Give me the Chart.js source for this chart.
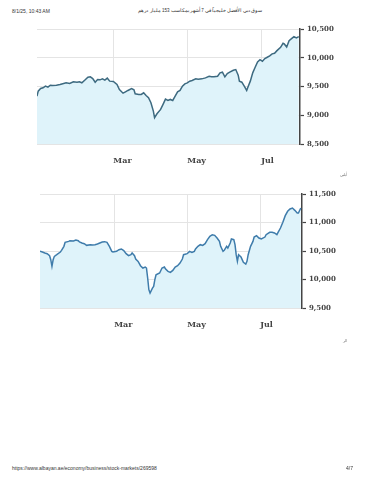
<!DOCTYPE html>
<html>
<head>
<meta charset="utf-8">
<title>سوق دبي</title>
<script src="https://cdn.jsdelivr.net/npm/chart.js"></script>
<style>
  body { margin:0; width:370px; height:480px; background:#fff; position:relative; overflow:hidden; font-family:"Liberation Sans", Arial, sans-serif; }
  .tiny { position:absolute; font-size:5px; color:#333; white-space:nowrap; }
  canvas { position:absolute; left:0; }
</style>
</head>
<body>
  <div class="tiny" style="left:12px; top:8px;">8/1/25, 10:43 AM</div>
  <div class="tiny" style="right:108px; top:8px; direction:rtl; font-size:4.5px;">سوق دبي الأفضل خليجياً في 7 أشهر بمكاسب 153 مليار درهم</div>
  <canvas id="chart1" width="370" height="160" style="top:15px;"></canvas>
  <div class="tiny" style="left:340px; top:172px; color:#777; font-size:4px;">أبلبي</div>
  <canvas id="chart2" width="370" height="160" style="top:180px;"></canvas>
  <div class="tiny" style="left:343px; top:338px; color:#777; font-size:4px;">الر</div>
  <div class="tiny" style="left:12px; top:465px;">https://www.albayan.ae/economy/business/stock-markets/269598</div>
  <div class="tiny" style="left:346px; top:465px;">4/7</div>
<script>
// x values are days counted from 1 Jan 2025
const xTickDays = [59, 120, 181];
const xTickLabels = ['Mar', 'May', 'Jul'];

const days1 = [-4,-3,-1,1,3,5,7,9,12,15,18,20,23,26,29,31,33,36,38,40,42,44,46,48,50,52,54,56,59,62,
  64,67,69,71,74,76,77,80,82,84,86,88,90,92,93,95,98,100,102,104,106,108,110,112,114,116,118,120,122,124,
  127,129,132,135,138,140,142,145,147,149,151,153,155,158,160,162,163,165,167,169,170,172,174,176,178,180,182,184,186,188,
  190,192,194,197,199,200,202,204,206,208,210,212];
const values1 = [9332,9419,9465,9477,9506,9488,9523,9517,9523,9535,9552,9564,9552,9581,9575,9581,9564,9621,9662,9668,
  9639,9575,9621,9616,9633,9610,9645,9593,9587,9535,9448,9384,9407,9431,9465,9442,9373,9361,9361,9390,
  9344,9304,9217,9072,8957,9026,9101,9188,9280,9257,9275,9257,9332,9408,9431,9506,9546,9564,9593,9604,
  9633,9627,9633,9650,9679,9668,9668,9679,9737,9749,9668,9726,9749,9783,9795,9697,9593,9575,9506,9431,
  9488,9593,9737,9835,9928,9968,9939,9986,10009,10032,10067,10078,10124,10182,10251,10240,10188,10298,10332,10367,
  10344,10367];
const yTicks1 = [8500, 9000, 9500, 10000, 10500];

const days2 = [-3,-1,1,3,5,6,7,8,9,11,14,15,17,18,21,22,25,27,29,30,32,34,36,39,41,43,45,47,49,51,
  53,55,57,58,61,63,65,67,69,71,73,74,76,77,79,81,83,85,86,87,88,89,91,92,93,94,97,99,101,102,
  104,106,108,110,112,114,116,117,120,122,124,126,127,129,131,133,135,137,139,141,143,145,147,148,150,151,153,154,156,157,
  159,160,161,162,163,165,166,167,169,170,171,173,175,176,178,180,182,185,186,189,191,193,195,196,198,200,202,204,206,208,
  210,212,213,215];
const values2 = [10494,10482,10465,10453,10418,10348,10231,10348,10406,10435,10482,10511,10582,10652,10669,10681,10675,10693,10681,10658,
  10640,10628,10599,10611,10605,10611,10623,10640,10658,10664,10652,10582,10494,10482,10494,10523,10535,10506,10453,10418,
  10435,10465,10418,10359,10318,10242,10201,10219,10201,10026,9821,9763,9850,9880,9997,10084,10114,10201,10219,10184,
  10143,10125,10160,10219,10242,10289,10359,10435,10453,10494,10476,10494,10535,10582,10611,10599,10628,10699,10757,10786,
  10775,10728,10669,10582,10494,10511,10582,10553,10640,10710,10699,10611,10435,10318,10435,10394,10348,10301,10271,10318,
  10435,10582,10669,10745,10769,10728,10710,10745,10786,10827,10827,10816,10786,10827,10903,11003,11120,11196,11237,11254,
  11213,11167,11167,11254];
const yTicks2 = [9500, 10000, 10500, 11000, 11500];

function drawChart(id, days, values, yTicks, xMin, xMax, padLeft, padTop, axisW, axisH, lineColor) {
  const pts = days.map((d, i) => ({ x: d, y: values[i] }));
  return new Chart(document.getElementById(id), {
    type: 'line',
    data: {
      datasets: [{
        data: pts,
        borderColor: lineColor,
        borderWidth: 1.5,
        backgroundColor: '#dff3fa',
        fill: 'start',
        pointRadius: 0,
        tension: 0
      }]
    },
    options: {
      responsive: false,
      animation: false,
      devicePixelRatio: 1,
      layout: { padding: { left: padLeft, top: padTop, right: 0, bottom: 0 } },
      plugins: { legend: { display: false }, tooltip: { enabled: false } },
      scales: {
        x: {
          type: 'linear',
          min: xMin,
          max: xMax,
          afterBuildTicks: s => { s.ticks = xTickDays.map(v => ({ value: v })); },
          afterFit: s => { s.height = axisH; },
          ticks: {
            callback: (v, i) => xTickLabels[i],
            align: 'start',
            padding: 12,
            autoSkip: false,
            maxRotation: 0,
            color: '#444',
            font: { family: 'DejaVu Serif', size: 8, weight: 'bold' }
          },
          grid: { color: '#e4e4e4', drawTicks: false },
          border: { display: false }
        },
        y: {
          position: 'right',
          min: yTicks[0],
          max: yTicks[yTicks.length - 1],
          afterBuildTicks: s => { s.ticks = yTicks.map(v => ({ value: v })); },
          afterFit: s => { s.width = axisW; },
          ticks: {
            callback: v => v.toLocaleString('en-US'),
            padding: 3,
            color: '#444',
            font: { family: 'DejaVu Serif', size: 7, weight: 'bold' }
          },
          grid: { color: '#e4e4e4', tickColor: '#444', tickLength: 4, tickWidth: 1.2 },
          border: { color: '#444', width: 1.5 }
        }
      }
    }
  });
}

drawChart('chart1', days1, values1, yTicks1, -4, 213, 37, 14, 70, 31, '#3d6a80');
drawChart('chart2', days2, values2, yTicks2, -3, 216, 40, 14, 68, 32, '#3f7cab');
</script>
</body>
</html>
